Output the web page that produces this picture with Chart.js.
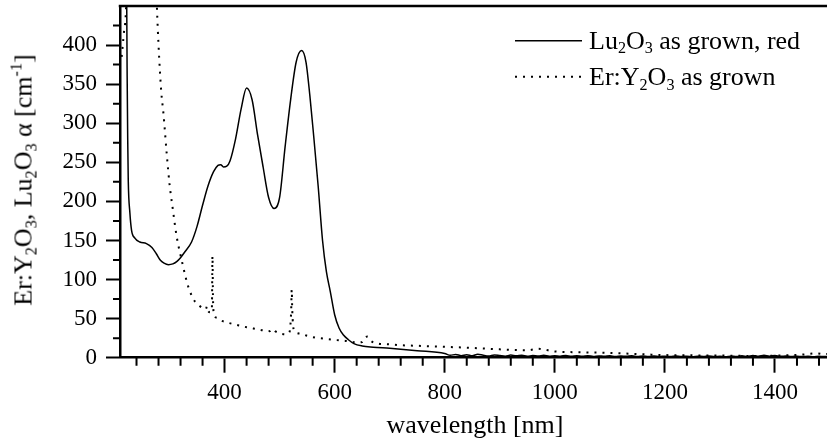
<!DOCTYPE html>
<html>
<head>
<meta charset="utf-8">
<script src="https://cdn.jsdelivr.net/npm/chart.js@4.4.1/dist/chart.umd.min.js"></script>
<style>
    html, body { margin: 0; padding: 0; background: #fff; overflow: hidden; }
    #wrap { position: relative; width: 827px; height: 440px; overflow: hidden; }
    #chart { position: absolute; left: 0; top: 0; }
    .lbl { position: absolute; font-family: "Liberation Serif", "Times New Roman", serif; font-size: 26px; line-height: 26px; white-space: nowrap; color: #000; }
    .sb { font-size: 62%; position: relative; top: 0.3em; }
    .sp { font-size: 62%; position: relative; top: -0.6em; }
    #ytitle { left: 24.5px; top: 180px; transform: translate(-50%, -50%) rotate(-90deg); }
</style>
</head>
<body>
<div id="wrap">
    <canvas id="chart" width="830" height="440"></canvas>
    <div class="lbl" style="left:589px; top:27.5px">Lu<span class="sb">2</span>O<span class="sb">3</span> as grown, red</div>
    <div class="lbl" style="left:589px; top:64px">Er:Y<span class="sb">2</span>O<span class="sb">3</span> as grown</div>
    <div class="lbl" id="ytitle">Er:Y<span class="sb">2</span>O<span class="sb">3</span>, Lu<span class="sb">2</span>O<span class="sb">3</span> α [cm<span class="sp">-1</span>]</div>
</div>
<script>
"use strict";

// Lu2O3 as grown, red (solid)
const wlLu = [221, 222, 223, 224, 225, 228, 231, 237, 246, 258, 268, 276, 283, 290, 298, 306, 313, 320, 328, 340,
    350, 360, 370, 380, 388, 393, 398, 404, 410, 420, 430, 440, 450, 460, 470, 480, 490, 500, 510, 520,
    530, 540, 548, 555, 562, 570, 578, 585, 592, 600, 608, 616, 625, 635, 650, 670, 700, 750,
    800, 810, 820, 830, 840, 850, 860, 870, 880, 890, 900, 910, 920, 930, 940, 950, 960, 970, 980, 990,
    1000, 1010, 1020, 1030, 1040, 1050, 1060, 1070, 1080, 1090, 1100, 1110, 1120, 1130, 1140, 1150, 1160, 1170, 1180, 1190,
    1200, 1210, 1220, 1230, 1240, 1250, 1260, 1270, 1280, 1290, 1300, 1310, 1320, 1330, 1340, 1350, 1360, 1370, 1380, 1390,
    1400, 1410, 1420, 1430, 1440, 1450, 1460, 1470, 1480, 1490, 1500];
const alphaLu = [700, 480, 360, 280, 227, 185, 163, 153, 148, 146, 141, 133, 125, 121, 119, 120, 123, 128, 135.5, 148,
    168, 195, 220, 238, 246, 247, 244, 245, 252, 280, 318, 345, 330, 285, 244, 205, 191, 205, 270, 330,
    378, 393, 378, 335, 283, 220, 150, 110, 85, 55, 38, 29, 23, 18, 15, 13.5, 12, 9,
    5.5, 3.0, 4.2, 2.6, 3.8, 2.4, 4.5, 3.1, 2.2, 3.6, 2.8, 2.0, 3.3, 2.5, 3.0, 1.9, 2.7, 2.2, 3.1, 1.8,
    2.6, 2.0, 2.9, 1.7, 2.4, 1.9, 2.6, 1.6, 2.3, 1.8, 2.5, 1.5, 2.2, 1.7, 2.4, 1.4, 2.1, 1.6, 2.3, 1.5,
    2.0, 1.4, 2.2, 1.6, 2.0, 1.3, 1.9, 1.5, 2.1, 1.4, 1.8, 1.2, 2.0, 1.5, 2.4, 1.6, 2.8, 1.9, 3.2, 2.0,
    2.9, 1.7, 2.3, 1.5, 2.0, 1.4, 1.9, 1.3, 1.8, 1.4, 1.6];

// Er:Y2O3 as grown (dotted)
const wlEr = [213, 217, 221, 224, 228, 265, 272, 277, 280, 285, 289, 295, 300, 305, 313, 322, 334, 346, 355, 361,
    366, 368, 370, 374, 377, 378, 379, 381, 386, 392, 405, 422, 440, 452, 470, 482, 488, 492, 501, 512,
    518, 521, 522, 523, 526, 537, 550, 567, 585, 604, 620, 640, 650, 655, 660, 665, 680, 700, 719, 760,
    797, 850, 900, 950, 970, 980, 1000, 1040, 1082, 1140, 1191, 1250, 1300, 1373, 1420, 1450, 1476, 1490, 1500];
const alphaEr = [385, 415, 450, 560, 700, 700, 560, 450, 400, 340, 312, 260, 222, 195, 155, 125, 91, 72, 66, 63,
    62, 66, 60, 58, 65, 130, 75, 55, 51, 48, 45, 42, 39, 37.5, 35, 34, 37, 34, 31, 30,
    33, 60, 87, 60, 35, 31, 28, 25.5, 24, 22.5, 21.5, 19.5, 20, 26, 27, 22, 18, 17, 16, 15,
    14, 12.5, 10.7, 9.5, 11.5, 10.5, 8, 7, 6.4, 5, 3.5, 3, 2.8, 2.2, 3, 4, 5.6, 4.5, 5];

const xTicks = [400, 600, 800, 1000, 1200, 1400];
const yTicks = [0, 50, 100, 150, 200, 250, 300, 350, 400];

const xMinor = [];
for (let v = 240; v <= 1500; v += 40) {
    if (v % 200 !== 0) xMinor.push(v);
}
const yMinor = [];
for (let v = 25; v <= 450; v += 50) yMinor.push(v);

const FONT = '"Liberation Serif", "Times New Roman", serif';
const DOTS = [2, 6];

const extras = {
    id: 'extras',
    afterDraw(chart) {
        const ctx = chart.ctx;
        const a = chart.chartArea;
        const x = chart.scales.x;
        const y = chart.scales.y;
        ctx.save();
        ctx.strokeStyle = '#000';
        ctx.lineWidth = 2;
        ctx.beginPath();
        xMinor.forEach(function (v) {
            const px = x.getPixelForValue(v);
            ctx.moveTo(px, a.bottom);
            ctx.lineTo(px, a.bottom + 8);
        });
        yMinor.forEach(function (v) {
            const py = y.getPixelForValue(v);
            ctx.moveTo(a.left, py);
            ctx.lineTo(a.left - 7, py);
        });
        ctx.stroke();

        // top frame
        ctx.lineWidth = 2.5;
        ctx.beginPath();
        ctx.moveTo(a.left - 1.25, a.top);
        ctx.lineTo(a.right, a.top);
        ctx.stroke();

        // legend samples
        ctx.lineWidth = 1.5;
        ctx.beginPath();
        ctx.moveTo(515, 40.7);
        ctx.lineTo(582, 40.7);
        ctx.stroke();
        ctx.lineWidth = 2;
        ctx.setLineDash(DOTS);
        ctx.beginPath();
        ctx.moveTo(515, 76.7);
        ctx.lineTo(584, 76.7);
        ctx.stroke();
        ctx.restore();
    }
};

function toPoints(xs, ys) {
    return xs.map(function (v, i) { return {x: v, y: ys[i]}; });
}

const ctx = document.getElementById('chart');
const myChart = new Chart(ctx, {
    type: 'line',
    data: {
        datasets: [{
            label: 'Lu2O3 as grown, red',
            data: toPoints(wlLu, alphaLu),
            borderColor: '#000',
            borderWidth: 1.5,
            pointRadius: 0,
            cubicInterpolationMode: 'monotone'
        }, {
            label: 'Er:Y2O3 as grown',
            data: toPoints(wlEr, alphaEr),
            borderColor: '#000',
            borderWidth: 2,
            borderDash: DOTS,
            pointRadius: 0,
            cubicInterpolationMode: 'monotone'
        }]
    },
    options: {
        responsive: false,
        animation: false,
        devicePixelRatio: 1,
        layout: {padding: {top: 6, left: 0, right: 0, bottom: 0}},
        plugins: {
            legend: {display: false},
            tooltip: {enabled: false}
        },
        scales: {
            x: {
                type: 'linear',
                min: 210,
                max: 1500,
                afterBuildTicks: function (s) { s.ticks = xTicks.map(function (v) { return {value: v}; }); },
                afterFit: function (s) { s.height = 82.3; s.paddingLeft = 0; s.paddingRight = 0; },
                border: {display: true, color: '#000', width: 2.5},
                grid: {drawOnChartArea: false, tickLength: 15, tickWidth: 2, tickColor: '#000'},
                ticks: {color: '#000', padding: 6.5, maxRotation: 0, autoSkip: false,
                    font: {family: FONT, size: 23},
                    callback: function (v) { return String(v); }},
                title: {display: true, text: 'wavelength [nm]', color: '#000', padding: 0,
                    font: {family: FONT, size: 26, lineHeight: 1.1}}
            },
            y: {
                min: 0,
                max: 450,
                afterBuildTicks: function (s) { s.ticks = yTicks.map(function (v) { return {value: v}; }); },
                afterFit: function (s) { s.width = 120; s.paddingTop = 0; s.paddingBottom = 0; },
                border: {display: true, color: '#000', width: 2.5},
                grid: {drawOnChartArea: false, tickLength: 14, tickWidth: 2, tickColor: '#000'},
                ticks: {color: '#000', padding: 9, font: {family: FONT, size: 23},
                    callback: function (v) { return String(v); }}
            }
        }
    },
    plugins: [extras]
});
</script>
</body>
</html>
